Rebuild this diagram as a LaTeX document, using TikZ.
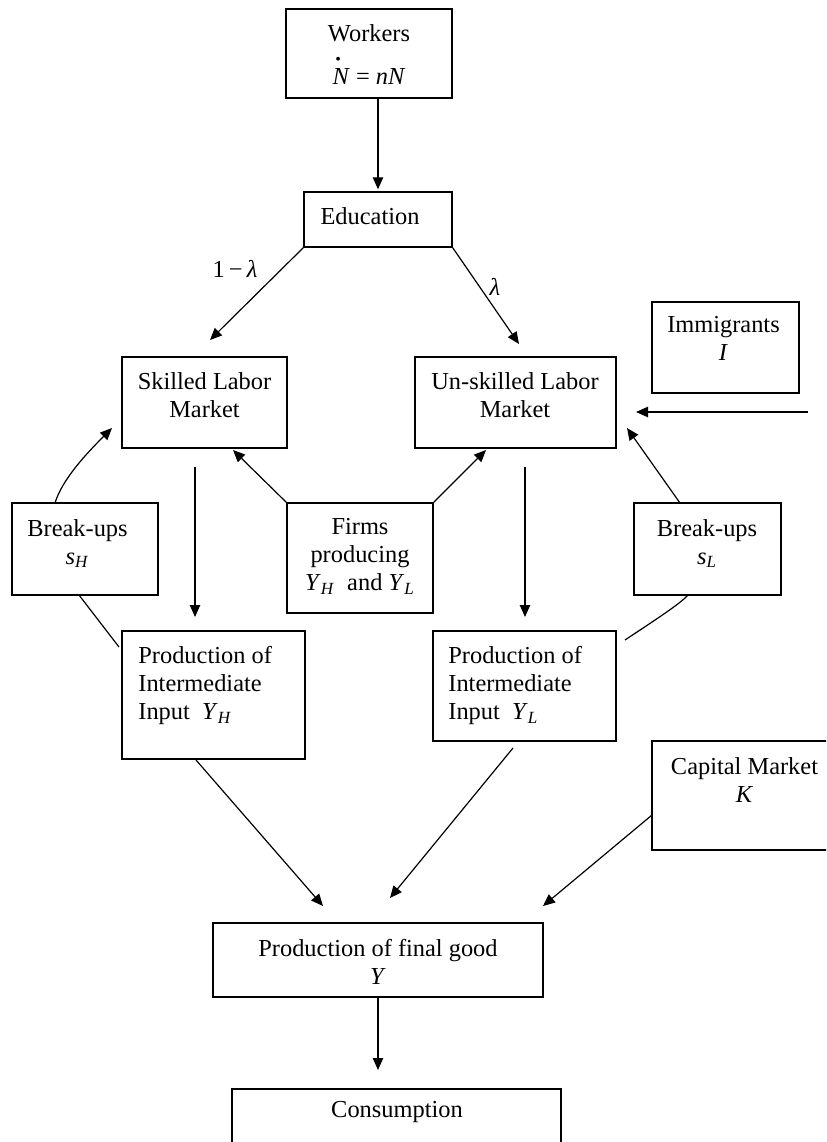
\documentclass[tikz,border=0pt]{standalone}
\usepackage{fontspec}
\setmainfont{Liberation Serif}
\usetikzlibrary{arrows.meta}
\newcommand\mybox[5]{\node[box, minimum width={(#4-#2)*0.5pt}, minimum height={(#5-#3)*0.5pt}] (#1) at ({(#2+#4)/2},{(#3+#5)/2}) {};}
\newcommand\sub[2]{\textit{#1}\textsubscript{\textit{#2}}}
\begin{document}
\begin{tikzpicture}[x=0.5pt,y=-0.5pt,
  box/.style={draw, line width=0.7pt, inner sep=0pt},
  txt/.style={inner sep=0pt, font=\fontsize{12.2}{14}\selectfont, align=center},
  arr/.style={line width=0.6pt, -{Triangle[length=6pt,width=5.2pt]}},
  ln/.style={line width=0.6pt}]
\clip (0,0) rectangle (826,1142);
\useasboundingbox (0,0) rectangle (826,1142);
% boxes
\mybox{wk}{286}{9}{452}{98}
\mybox{ed}{304}{192}{452}{247}
\mybox{sk}{122}{357}{287}{448}
\mybox{us}{415}{357}{616}{448}
\mybox{im}{652}{302}{799}{393}
\mybox{bh}{12}{503}{158}{595}
\mybox{fi}{287}{503}{433}{613}
\mybox{bl}{634}{503}{781}{595}
\mybox{ph}{122}{631}{305}{759}
\mybox{pl}{433}{631}{616}{741}
\mybox{cap}{652}{741}{832}{850}
\mybox{fg}{213}{923}{543}{997}
\mybox{co}{232}{1089}{561}{1160}
% texts
\node[txt, anchor=north] (twk) at (369,24) {Workers\\[7.5pt]\makebox[0pt][l]{\hspace{0.12em}\raisebox{0.8em}{\footnotesize\textbullet}}\textit{N} = \textit{nN}};
\node[txt, anchor=north] (ted) at (370,207) {Education};
\node[txt, anchor=north] (tsk) at (204.5,372) {Skilled Labor\\Market};
\node[txt, anchor=north] (tus) at (515,372) {Un-skilled Labor\\Market};
\node[txt, anchor=north] (tim) at (723.5,316) {Immigrants\\\textit{I}};
\node[txt, anchor=north] (tbh) at (77.5,519) {Break-ups\\\sub{s}{H}};
\node[txt, anchor=north] (tfi) at (360,518) {Firms\\producing\\\sub{Y}{H}\ \ and \sub{Y}{L}};
\node[txt, anchor=north] (tbl) at (707,519) {Break-ups\\\sub{s}{L}};
\node[txt, anchor=north west, align=left] (tph) at (138,646) {Production of\\Intermediate\\Input\ \ \sub{Y}{H}};
\node[txt, anchor=north west, align=left] (tpl) at (448,646) {Production of\\Intermediate\\Input\ \ \sub{Y}{L}};
\node[txt, anchor=north] (tcap) at (744.5,757) {Capital Market\\\textit{K}};
\node[txt, anchor=north] (tfg) at (378,939) {Production of final good\\\textit{Y}};
\node[txt, anchor=north] (tco) at (397,1101) {Consumption};
% labels
\node[txt, anchor=base] (l1) at (235,277) {1\,−\,\textit{λ}};
\node[txt, anchor=base] (l2) at (495,295) {\textit{λ}};
% free-end coordinates
\coordinate (a1) at (210,340);
\coordinate (a2) at (519,344);
\coordinate (s1) at (195,467);
\coordinate (s2) at (195,617);
\coordinate (f1) at (233,450);
\coordinate (f2) at (486,450);
\coordinate (bh1) at (55,503);
\coordinate (bh2) at (112,428);
\coordinate (bh3) at (79,595);
\coordinate (bh4) at (119,647);
\coordinate (u1) at (525,467);
\coordinate (u2) at (525,617);
\coordinate (i1) at (808,412);
\coordinate (i2) at (636,412);
\coordinate (bl1) at (680,503);
\coordinate (bl2) at (627,428);
\coordinate (bl3) at (688,595);
\coordinate (bl4) at (625,640);
\coordinate (p1) at (196,760);
\coordinate (p2) at (323,906);
\coordinate (q1) at (513,748);
\coordinate (q2) at (390,898);
\coordinate (c1) at (652,815);
\coordinate (c2) at (543,906);
\coordinate (g2) at (378,1070);
% connectors
\draw[arr, shorten >=1pt] (wk.south -| ed.north) -- (ed.north);
\draw[arr] (ed.south west) -- (a1);
\draw[arr] (ed.south east) -- (a2);
\draw[arr] (s1) -- (s2);
\draw[arr] (fi.north west) -- (f1);
\draw[arr] (fi.north east) -- (f2);
\draw[arr] (bh1) .. controls (62,480) and (85,455) .. (bh2);
\draw[ln] (bh3) -- (bh4);
\draw[arr] (u1) -- (u2);
\draw[arr] (i1) -- (i2);
\draw[arr] (bl1) -- (bl2);
\draw[ln] (bl3) .. controls (680,604) and (655,620) .. (bl4);
\draw[arr] (p1) -- (p2);
\draw[arr] (q1) -- (q2);
\draw[arr] (c1) -- (c2);
\draw[arr] (fg.south) -- (g2);
\end{tikzpicture}
\end{document}
